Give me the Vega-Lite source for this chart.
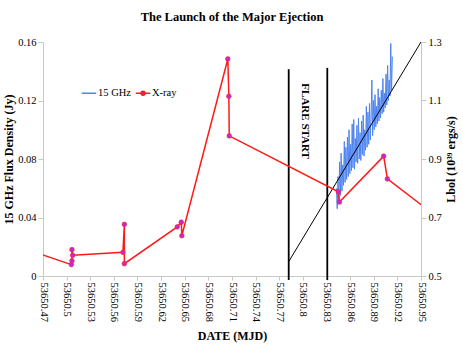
{
  "$schema": "https://vega.github.io/schema/vega-lite/v6.json",
  "width": 378,
  "height": 234,
  "autosize": {"type": "none"},
  "padding": {"left": 43, "top": 42, "right": 42, "bottom": 69},
  "background": "white",
  "title": {"text": "The Launch of the Major Ejection", "font": "Liberation Serif", "fontSize": 12.5, "fontWeight": "bold", "color": "#000", "anchor": "middle", "frame": "group", "offset": 14},
  "config": {
    "font": "Liberation Serif",
    "view": {"stroke": null},
    "axis": {"domainColor": "#c8c8c8", "tickColor": "#c8c8c8", "grid": false, "labelFont": "Liberation Serif", "labelFontSize": 10.5, "labelColor": "#000", "titleFont": "Liberation Serif", "titleFontSize": 12, "titleFontWeight": "bold", "titleColor": "#000", "tickSize": 5, "labelPadding": 2},
    "text": {"font": "Liberation Serif"},
    "legend": {"orient": "none", "legendX": 38, "legendY": 43, "direction": "horizontal", "symbolType": "stroke", "symbolSize": 210, "symbolStrokeWidth": 1.5, "labelFont": "Liberation Serif", "labelFontSize": 10.5, "labelColor": "#000", "labelOffset": 1, "columnPadding": 1, "title": null}
  },
  "datasets": {
    "radio": [
      {"mjd": 53650.8426, "jy": 0.060, "series": "15 GHz"},
      {"mjd": 53650.8436, "jy": 0.046, "series": "15 GHz"},
      {"mjd": 53650.8446, "jy": 0.068, "series": "15 GHz"},
      {"mjd": 53650.8456, "jy": 0.050, "series": "15 GHz"},
      {"mjd": 53650.8466, "jy": 0.078, "series": "15 GHz"},
      {"mjd": 53650.8476, "jy": 0.055, "series": "15 GHz"},
      {"mjd": 53650.8486, "jy": 0.084, "series": "15 GHz"},
      {"mjd": 53650.8496, "jy": 0.058, "series": "15 GHz"},
      {"mjd": 53650.8506, "jy": 0.076, "series": "15 GHz"},
      {"mjd": 53650.8516, "jy": 0.062, "series": "15 GHz"},
      {"mjd": 53650.8526, "jy": 0.092, "series": "15 GHz"},
      {"mjd": 53650.8536, "jy": 0.064, "series": "15 GHz"},
      {"mjd": 53650.8546, "jy": 0.088, "series": "15 GHz"},
      {"mjd": 53650.8556, "jy": 0.066, "series": "15 GHz"},
      {"mjd": 53650.8566, "jy": 0.095, "series": "15 GHz"},
      {"mjd": 53650.8576, "jy": 0.068, "series": "15 GHz"},
      {"mjd": 53650.8586, "jy": 0.100, "series": "15 GHz"},
      {"mjd": 53650.8596, "jy": 0.070, "series": "15 GHz"},
      {"mjd": 53650.8606, "jy": 0.090, "series": "15 GHz"},
      {"mjd": 53650.8616, "jy": 0.072, "series": "15 GHz"},
      {"mjd": 53650.8626, "jy": 0.104, "series": "15 GHz"},
      {"mjd": 53650.8636, "jy": 0.074, "series": "15 GHz"},
      {"mjd": 53650.8646, "jy": 0.107, "series": "15 GHz"},
      {"mjd": 53650.8656, "jy": 0.073, "series": "15 GHz"},
      {"mjd": 53650.8666, "jy": 0.094, "series": "15 GHz"},
      {"mjd": 53650.8676, "jy": 0.078, "series": "15 GHz"},
      {"mjd": 53650.8686, "jy": 0.103, "series": "15 GHz"},
      {"mjd": 53650.8696, "jy": 0.077, "series": "15 GHz"},
      {"mjd": 53650.8706, "jy": 0.108, "series": "15 GHz"},
      {"mjd": 53650.8716, "jy": 0.080, "series": "15 GHz"},
      {"mjd": 53650.8726, "jy": 0.098, "series": "15 GHz"},
      {"mjd": 53650.8736, "jy": 0.079, "series": "15 GHz"},
      {"mjd": 53650.8746, "jy": 0.106, "series": "15 GHz"},
      {"mjd": 53650.8756, "jy": 0.083, "series": "15 GHz"},
      {"mjd": 53650.8766, "jy": 0.110, "series": "15 GHz"},
      {"mjd": 53650.8776, "jy": 0.082, "series": "15 GHz"},
      {"mjd": 53650.8786, "jy": 0.100, "series": "15 GHz"},
      {"mjd": 53650.8796, "jy": 0.086, "series": "15 GHz"},
      {"mjd": 53650.8806, "jy": 0.116, "series": "15 GHz"},
      {"mjd": 53650.8816, "jy": 0.088, "series": "15 GHz"},
      {"mjd": 53650.8826, "jy": 0.112, "series": "15 GHz"},
      {"mjd": 53650.8836, "jy": 0.090, "series": "15 GHz"},
      {"mjd": 53650.8846, "jy": 0.118, "series": "15 GHz"},
      {"mjd": 53650.8856, "jy": 0.093, "series": "15 GHz"},
      {"mjd": 53650.8866, "jy": 0.108, "series": "15 GHz"},
      {"mjd": 53650.8876, "jy": 0.134, "series": "15 GHz"},
      {"mjd": 53650.8886, "jy": 0.096, "series": "15 GHz"},
      {"mjd": 53650.8896, "jy": 0.120, "series": "15 GHz"},
      {"mjd": 53650.8906, "jy": 0.100, "series": "15 GHz"},
      {"mjd": 53650.8916, "jy": 0.124, "series": "15 GHz"},
      {"mjd": 53650.8926, "jy": 0.102, "series": "15 GHz"},
      {"mjd": 53650.8936, "jy": 0.116, "series": "15 GHz"},
      {"mjd": 53650.8946, "jy": 0.104, "series": "15 GHz"},
      {"mjd": 53650.8956, "jy": 0.128, "series": "15 GHz"},
      {"mjd": 53650.8966, "jy": 0.106, "series": "15 GHz"},
      {"mjd": 53650.8976, "jy": 0.122, "series": "15 GHz"},
      {"mjd": 53650.8986, "jy": 0.108, "series": "15 GHz"},
      {"mjd": 53650.8996, "jy": 0.127, "series": "15 GHz"},
      {"mjd": 53650.9006, "jy": 0.111, "series": "15 GHz"},
      {"mjd": 53650.9016, "jy": 0.135, "series": "15 GHz"},
      {"mjd": 53650.9026, "jy": 0.112, "series": "15 GHz"},
      {"mjd": 53650.9036, "jy": 0.125, "series": "15 GHz"},
      {"mjd": 53650.9046, "jy": 0.115, "series": "15 GHz"},
      {"mjd": 53650.9056, "jy": 0.138, "series": "15 GHz"},
      {"mjd": 53650.9066, "jy": 0.117, "series": "15 GHz"},
      {"mjd": 53650.9076, "jy": 0.144, "series": "15 GHz"},
      {"mjd": 53650.9086, "jy": 0.120, "series": "15 GHz"},
      {"mjd": 53650.9096, "jy": 0.134, "series": "15 GHz"},
      {"mjd": 53650.9106, "jy": 0.123, "series": "15 GHz"},
      {"mjd": 53650.9116, "jy": 0.159, "series": "15 GHz"},
      {"mjd": 53650.9126, "jy": 0.127, "series": "15 GHz"},
      {"mjd": 53650.9136, "jy": 0.150, "series": "15 GHz"}
    ],
    "fit": [
      {"mjd": 53650.782, "jy": 0.0098},
      {"mjd": 53650.95, "jy": 0.16}
    ],
    "flare": [
      {"mjd": 53650.782, "jy": -0.0027, "jy2": 0.1414},
      {"mjd": 53650.831, "jy": -0.0027, "jy2": 0.1423}
    ],
    "label": [
      {"mjd": 53650.803, "jy": 0.1059, "text": "FLARE START"}
    ],
    "xray": [
      {"mjd": 53650.44, "lum": 0.599, "series": "X-ray"},
      {"mjd": 53650.506, "lum": 0.539, "series": "X-ray"},
      {"mjd": 53650.5068, "lum": 0.552, "series": "X-ray"},
      {"mjd": 53650.5068, "lum": 0.590, "series": "X-ray"},
      {"mjd": 53650.5077, "lum": 0.5707, "series": "X-ray"},
      {"mjd": 53650.5715, "lum": 0.581, "series": "X-ray"},
      {"mjd": 53650.5733, "lum": 0.6765, "series": "X-ray"},
      {"mjd": 53650.5733, "lum": 0.542, "series": "X-ray"},
      {"mjd": 53650.6405, "lum": 0.668, "series": "X-ray"},
      {"mjd": 53650.6456, "lum": 0.684, "series": "X-ray"},
      {"mjd": 53650.6463, "lum": 0.6376, "series": "X-ray"},
      {"mjd": 53650.7047, "lum": 1.242, "series": "X-ray"},
      {"mjd": 53650.706, "lum": 1.1146, "series": "X-ray"},
      {"mjd": 53650.7065, "lum": 0.979, "series": "X-ray"},
      {"mjd": 53650.8451, "lum": 0.788, "series": "X-ray"},
      {"mjd": 53650.8464, "lum": 0.7527, "series": "X-ray"},
      {"mjd": 53650.9026, "lum": 0.9097, "series": "X-ray"},
      {"mjd": 53650.9073, "lum": 0.832, "series": "X-ray"},
      {"mjd": 53650.98, "lum": 0.682, "series": "X-ray"}
    ]
  },
  "encoding": {
    "x": {
      "field": "mjd", "type": "quantitative",
      "scale": {"domain": [53650.47, 53650.95], "nice": false, "zero": false},
      "axis": {
        "title": "DATE (MJD)",
        "values": [53650.47, 53650.5, 53650.53, 53650.56, 53650.59, 53650.62, 53650.65, 53650.68, 53650.71, 53650.74, 53650.77, 53650.8, 53650.83, 53650.86, 53650.89, 53650.92, 53650.95],
        "format": ".2~f",
        "labelFont": "Liberation Serif", "labelFontSize": 10.5,
        "labelAngle": 90, "labelAlign": "left", "labelBaseline": "middle",
        "labelOverlap": false, "labelFlush": false,
        "tickSize": 4, "titlePadding": 9
      }
    }
  },
  "layer": [
    {
      "encoding": {
        "y": {
          "field": "jy", "type": "quantitative",
          "scale": {"domain": [0, 0.16], "nice": false, "zero": false},
          "axis": {"orient": "left", "title": "15 GHz Flux Density (Jy)", "values": [0, 0.04, 0.08, 0.12, 0.16], "format": "~g", "labelFont": "Liberation Serif", "labelFontSize": 10.5, "titlePadding": 2}
        }
      },
      "layer": [
        {
          "data": {"name": "radio"},
          "mark": {"type": "line", "strokeWidth": 1, "clip": true},
          "encoding": {
            "color": {
              "field": "series", "type": "nominal",
              "scale": {"domain": ["15 GHz", "X-ray"], "range": ["#4d83f2", "#ff1a1a"]},
              "legend": {
                "labelFont": "Liberation Serif",
                "encode": {
                  "symbols": {
                    "update": {
                      "shape": {"signal": "datum.value === 'X-ray' ? 'M-1,0L1,0M-0.26,0A0.26,0.26 0 1,0 0.26,0A0.26,0.26 0 1,0 -0.26,0' : 'stroke'"},
                      "fill": {"signal": "datum.value === 'X-ray' ? '#c02ad0' : 'transparent'"}
                    }
                  }
                }
              }
            },
            "order": {"value": null}
          }
        },
        {
          "data": {"name": "fit"},
          "mark": {"type": "line", "color": "#000", "strokeWidth": 1, "clip": true},
          "encoding": {}
        },
        {
          "data": {"name": "flare"},
          "mark": {"type": "rule", "color": "#000", "strokeWidth": 1.8},
          "encoding": {"y2": {"field": "jy2"}}
        },
        {
          "data": {"name": "label"},
          "mark": {"type": "text", "angle": 90, "align": "center", "baseline": "middle", "font": "Liberation Serif", "fontSize": 11, "fontWeight": "bold", "color": "#000"},
          "encoding": {"text": {"field": "text"}}
        }
      ]
    },
    {
      "data": {"name": "xray"},
      "encoding": {
        "y": {
          "field": "lum", "type": "quantitative",
          "scale": {"domain": [0.5, 1.3], "nice": false, "zero": false},
          "axis": {"orient": "right", "title": "Lbol (10³⁹ ergs/s)", "values": [0.5, 0.7, 0.9, 1.1, 1.3], "format": ".1f", "labelFont": "Liberation Serif", "labelFontSize": 10.5, "titleAngle": 270, "titleBaseline": "top", "titlePadding": 4}
        }
      },
      "layer": [
        {
          "mark": {"type": "line", "strokeWidth": 1.5, "clip": true},
          "encoding": {
            "color": {"field": "series", "type": "nominal", "scale": {"domain": ["15 GHz", "X-ray"], "range": ["#4d83f2", "#ff1a1a"]}},
            "order": {"value": null}
          }
        },
        {
          "mark": {"type": "point", "filled": true, "shape": "circle", "size": 22, "color": "#c02ad0", "stroke": "#ff2020", "strokeWidth": 0.6, "opacity": 1, "clip": true},
          "encoding": {}
        }
      ]
    }
  ],
  "resolve": {"scale": {"y": "independent"}}
}
